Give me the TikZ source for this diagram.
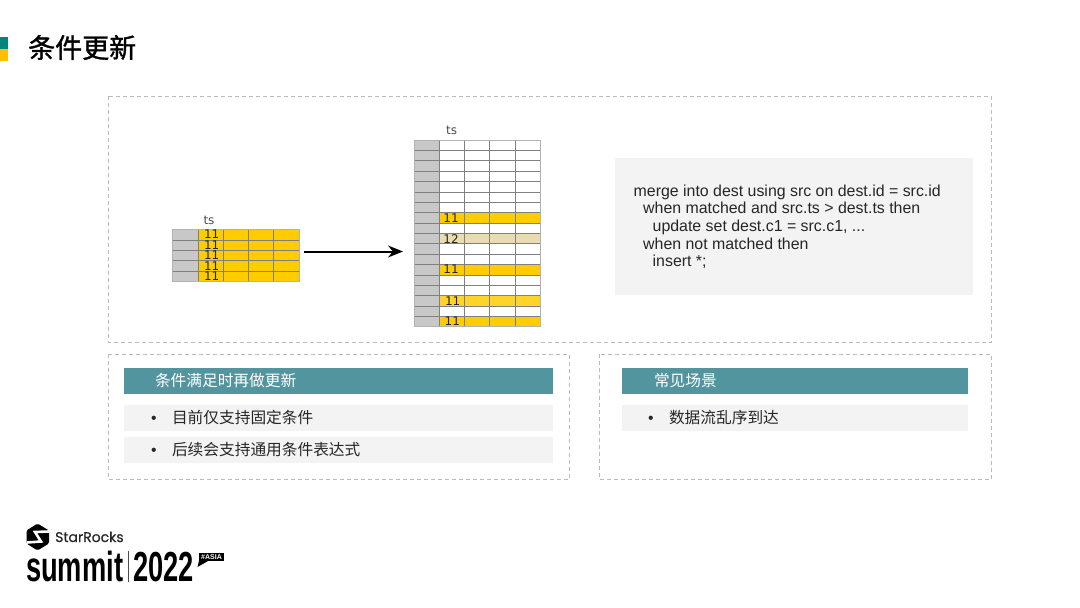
\documentclass[tikz,border=0pt]{standalone}
\usepackage{fontspec}
\usetikzlibrary{arrows.meta}
\setmainfont{Noto Sans CJK SC}
\newfontfamily\titlefont[FakeBold=1.2]{Noto Sans CJK SC}
\newfontfamily\codefont{Liberation Sans}
\newfontfamily\cellfont{DejaVu Sans}
\newfontfamily\brandfont[FakeBold=.6]{Poppins}
\definecolor{teal}{HTML}{53959F}
\definecolor{deepteal}{HTML}{00857C}
\definecolor{amber}{HTML}{FFC000}
\definecolor{pale}{HTML}{F3F3F3}
\definecolor{rowgold}{HTML}{FFCC00}
\definecolor{rowlight}{HTML}{FFD42A}
\definecolor{rowsand}{HTML}{E9DDAF}
\definecolor{keygray}{HTML}{C8C8C8}
\definecolor{ink}{HTML}{262626}
\tikzset{
  frame/.style={draw=black!27,dashed,dash pattern=on 4pt off 3pt,line width=.8pt},
  gridline/.style={draw=black!50,line width=.55pt},
  tableedge/.style={draw=black!30,line width=.7pt},
  celltext/.style={font=\cellfont\fontsize{12}{12}\selectfont,text=ink,inner sep=0pt},
  tealbar/.style={fill=teal,text=white,inner xsep=0pt,inner ysep=0pt,minimum height=26pt,align=left,font=\fontsize{15.7}{18}\selectfont},
  palebar/.style={fill=pale,text=ink,inner xsep=0pt,inner ysep=0pt,minimum height=26pt,align=left,font=\fontsize{15.7}{18}\selectfont},
}
\begin{document}
\begin{tikzpicture}[x=1pt,y=-1pt,>=Stealth]
\useasboundingbox (0,0) rectangle (1080,608);
\fill[deepteal] (0,37) rectangle (8,48.5);
\fill[amber] (0,48.5) rectangle (8,61);
\node[anchor=west,inner sep=0pt,font=\titlefont\fontsize{27}{30}\selectfont] (title) at (28,47.5) {条件更新};
\draw[frame] (108,96) rectangle (991.6,342);
\draw[frame] (108,354) rectangle (569.6,479);
\draw[frame] (599,354) rectangle (991.6,479);
\fill[keygray] (172.7,229.3) rectangle (198,281.7);
\fill[rowgold] (198,229.3) rectangle (299,281.7);
\foreach \r in {1,...,4} \draw[gridline] (172.7,{229.3+10.48*\r}) -- (299,{229.3+10.48*\r});
\foreach \c in {1,...,4} \draw[gridline] ({172.7+25.26*\c},229.3) -- ({172.7+25.26*\c},281.7);
\draw[tableedge] (172.7,229.3) rectangle (299,281.7);
\foreach \r in {0,...,4} \node[celltext] (src\r) at (211.7,{234.5+10.48*\r}) {11};
\node[celltext,text=black!70] (tssrc) at (209,220) {ts};
\fill[keygray] (414,140) rectangle (439.2,326.7);
\foreach \r/\c in {7/rowgold,9/rowsand,12/rowgold,15/rowlight,17/rowgold}
  \fill[\c] (439.2,{140+10.37*\r}) rectangle (540,{140+10.37*(\r+1)});
\foreach \r in {1,...,17} \draw[gridline] (414,{140+10.37*\r}) -- (540,{140+10.37*\r});
\foreach \c in {1,...,4} \draw[gridline] ({414+25.2*\c},140) -- ({414+25.2*\c},326.7);
\draw[tableedge] (414,140) rectangle (540,326.7);
\node[celltext] (dest7) at (451,218) {11};
\node[celltext] (dest9) at (451,238.7) {12};
\node[celltext] (dest12) at (451,269.5) {11};
\node[celltext] (dest15) at (452.7,300.7) {11};
\node[celltext] (dest17) at (452.3,321.5) {11};
\node[celltext,text=black!70] (tsdest) at (451.7,130) {ts};
\coordinate (arrowtail) at (304,251.5);
\coordinate (arrowhead) at (403,251.5);
\draw[-{Stealth[length=15pt,width=12pt]},line width=2pt] (arrowtail) -- (arrowhead);
\fill[pale] (615,158) rectangle (973,295);
\node[anchor=north west,inner sep=0pt,align=left,text=ink,font=\codefont\fontsize{15.9}{17.6}\selectfont] (sql) at (633.5,184.5) {merge into dest using src on dest.id = src.id\\
\hspace*{9.5pt}when matched and src.ts > dest.ts then\\
\hspace*{19pt}update set dest.c1 = src.c1, ...\\
\hspace*{9.5pt}when not matched then\\
\hspace*{19pt}insert *;};
\node[tealbar,text width=429pt] (condhead) at (338.5,380.8) {\hspace*{31pt}条件满足时再做更新};
\node[palebar,text width=429pt] (condone) at (338.5,417.5) {\hspace*{27pt}\makebox[21pt][l]{\codefont•}目前仅支持固定条件};
\node[palebar,text width=429pt] (condtwo) at (338.5,449.5) {\hspace*{27pt}\makebox[21pt][l]{\codefont•}后续会支持通用条件表达式};
\node[tealbar,text width=346pt] (scenehead) at (795,380.8) {\hspace*{32pt}常见场景};
\node[palebar,text width=346pt] (sceneone) at (795,417.5) {\hspace*{26pt}\makebox[21pt][l]{\codefont•}数据流乱序到达};
\fill[black,rounded corners=1.5pt] (37.5,523.5) -- (49,530.5) -- (49,543.5) -- (37.5,550.5) -- (26.5,543.5) -- (26.5,530.5) -- cycle;
\draw[white,line width=2.6pt] (49,531.5) -- (35,532) -- (41,541.5) -- (27,542.5);
\node[anchor=base west,inner sep=0pt,font=\brandfont\fontsize{14}{14}\selectfont,text=ink] (brand) at (55,542) {StarRocks};
\node[anchor=base west,inner sep=0pt,xscale=.65,font=\codefont\bfseries\fontsize{42}{42}\selectfont] (summit) at (26,581) {summit};
\draw[black!70,line width=.6pt] (128.5,551) -- (128.5,582);
\node[anchor=base west,inner sep=0pt,xscale=.65,font=\codefont\bfseries\fontsize{42}{42}\selectfont] (year) at (133,581) {2022};
\fill[black] (199,552.5) rectangle (224,561);
\fill[black] (199,560.5) -- (197.5,567) -- (209,560.5) -- cycle;
\node[inner sep=0pt,text=white,font=\codefont\bfseries\fontsize{7}{7}\selectfont] (asia) at (211.5,556.8) {\#ASIA};
\end{tikzpicture}
\end{document}
